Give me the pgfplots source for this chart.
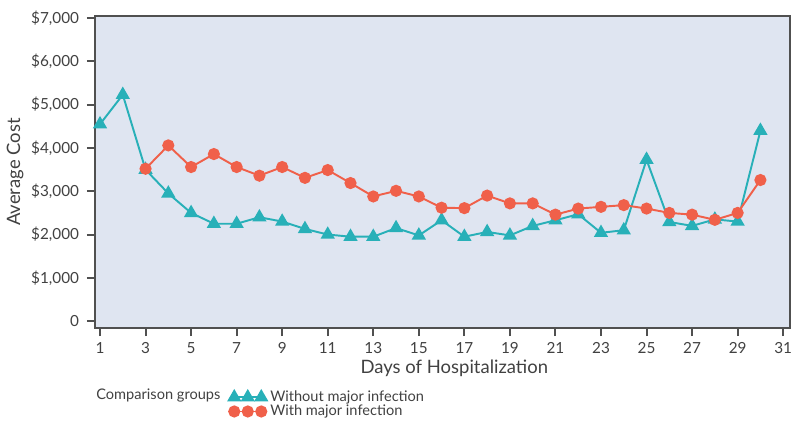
\documentclass[border=0pt]{standalone}
\usepackage{pgfplots}
\pgfplotsset{compat=1.18}
\usepackage{fontspec}
\setmainfont{Lato}
\definecolor{tealc}{RGB}{40,176,184}
\definecolor{coral}{RGB}{240,96,74}
\definecolor{bgblue}{RGB}{223,229,241}
\definecolor{axgray}{RGB}{80,80,80}
\definecolor{txtgray}{RGB}{65,65,65}

\begin{document}
\begin{tikzpicture}
% frame of the reference image (800x428 px, 1 px = 0.02 cm)
\path (-1.9,-2.0) rectangle (14.1,6.56);
\begin{axis}[
    at={(0,0)}, anchor=south west,
    scale only axis, width=13.9cm, height=6.24cm,
    xmin=0.78, xmax=31.3, ymin=-160, ymax=7050,
    axis background/.style={fill=bgblue},
    axis line style={axgray, line width=1.3pt},
    tick style={axgray, line width=1.1pt},
    tick align=outside, major tick length=0.16cm,
    xtick pos=lower, ytick pos=left,
    xtick={1,3,...,31},
    ytick={0,1000,...,7000},
    yticklabels={0,\$1{,}000,\$2{,}000,\$3{,}000,\$4{,}000,\$5{,}000,\$6{,}000,\$7{,}000},
    /pgf/number format/assume math mode=true,
    ticklabel style={font=\fontsize{8.7}{10}\selectfont, text=txtgray},
    yticklabel style={xshift=-1pt},
    xlabel={Days of Hospitalization},
    ylabel={Average Cost},
    label style={font=\fontsize{10.5}{12}\selectfont, text=txtgray},
    xlabel style={at={(axis description cs:0.517,-0.128)}, anchor=center},
    ylabel style={at={(axis description cs:-0.115,0.5)}, anchor=center},
    legend style={at={(axis description cs:0.192,-0.188)}, anchor=north west,
        draw=none, fill=none, inner sep=0pt,
        font=\fontsize{8.3}{9.5}\selectfont, text=txtgray,
        row sep=-3.5pt},
    legend cell align=left,
    legend image code/.code={%
        \draw[mark repeat=1,#1] plot coordinates {(0cm,0cm) (0.27cm,0cm) (0.54cm,0cm)};},
]
% without major infection -- teal triangles
\addplot[tealc, line width=1.1pt, mark=triangle*, mark size=3.6pt] coordinates {
  (1,4550)(2,5230)(3,3500)(4,2950)(5,2500)(6,2250)(7,2250)(8,2400)(9,2300)(10,2130)
  (11,2000)(12,1950)(13,1950)(14,2150)(15,1980)(16,2330)(17,1950)(18,2060)(19,1980)(20,2200)
  (21,2330)(22,2470)(23,2040)(24,2100)(25,3730)(26,2290)(27,2200)(28,2350)(29,2300)(30,4400)};
\addlegendentry{Without major infection}
% with major infection -- coral circles
\addplot[coral, line width=1.1pt, mark=*, mark size=2.9pt] coordinates {
  (3,3520)(4,4060)(5,3560)(6,3860)(7,3560)(8,3360)(9,3560)(10,3310)(11,3490)(12,3190)
  (13,2880)(14,3010)(15,2880)(16,2620)(17,2610)(18,2900)(19,2720)(20,2720)(21,2460)(22,2600)
  (23,2640)(24,2680)(25,2600)(26,2500)(27,2460)(28,2340)(29,2500)(30,3260)};
\addlegendentry{With major infection}
\end{axis}
\node[anchor=base west, font=\fontsize{8.3}{9.5}\selectfont, text=txtgray, inner sep=0pt]
  at (0.02,-1.42) {Comparison groups};
\end{tikzpicture}
\end{document}
